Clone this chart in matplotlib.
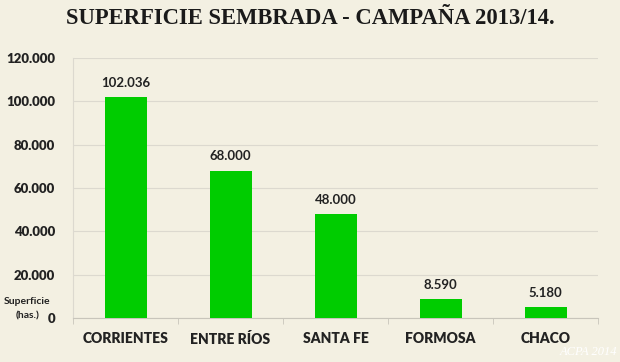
import matplotlib
matplotlib.use("Agg")
import matplotlib.pyplot as plt
from matplotlib.ticker import FuncFormatter, FixedLocator

categories = ["CORRIENTES", "ENTRE RÍOS", "SANTA FE", "FORMOSA", "CHACO"]
values = [102036, 68000, 48000, 8590, 5180]
yticks = [0, 20000, 40000, 60000, 80000, 100000, 120000]

def fmt(v):
    return f"{int(v):,}".replace(",", ".")

bg = "#f3f0e2"
fig = plt.figure(figsize=(6.2, 3.62), dpi=100, facecolor=bg)
ax = fig.add_axes([73/620, 1-318/362, 525/620, 260/362], facecolor=bg)

x = list(range(len(categories)))
ax.bar(x, values, width=0.4, color="#00cc00", zorder=3)
for xi, v in zip(x, values):
    ax.text(xi, v + 3800, fmt(v), ha="center", va="bottom", fontsize=9.5,
            fontweight="bold", family="Lato", color="#222222")

ax.set_xlim(-0.5, len(categories) - 0.5)
ax.set_ylim(0, 120000)
ax.set_yticks(yticks)
ax.yaxis.set_major_formatter(FuncFormatter(lambda v, p: fmt(v)))
ax.set_xticks(x)
ax.set_xticklabels(categories)
ax.xaxis.set_minor_locator(FixedLocator([i - 0.5 for i in range(len(categories) + 1)]))
ax.grid(axis="y", color="#dcd9cf", linewidth=0.8, zorder=0)
for s in ["top", "right"]:
    ax.spines[s].set_visible(False)
ax.spines["left"].set_color("#dcd9cf")
ax.spines["bottom"].set_color("#c8c5bb")
ax.tick_params(axis="y", length=0, pad=13, labelsize=9.5, colors="#222222")
ax.tick_params(axis="x", which="major", length=0, pad=10, labelsize=10, colors="#222222")
ax.tick_params(axis="x", which="minor", length=4, color="#c8c5bb")
for lbl in ax.get_yticklabels() + ax.get_xticklabels():
    lbl.set_fontweight("heavy")
    lbl.set_family("Lato")

fig.text(0.5, 1-19/362, "SUPERFICIE SEMBRADA - CAMPAÑA 2013/14.", ha="center", va="center",
         fontsize=16.3, fontweight="bold", family="Liberation Serif", color="#1a1a1a")
fig.text(27/620, 1-302/362, "Superficie", ha="center", va="center", fontsize=7.5,
         fontweight="bold", family="Lato", color="#222222")
fig.text(28/620, 1-316/362, "(has.)", ha="center", va="center", fontsize=7.5,
         fontweight="bold", family="Lato", color="#222222")
fig.text(0.995, 0.01, "ACPA 2014", ha="right", va="bottom", fontsize=9, style="italic",
         family="Liberation Serif", color="white")

fig.savefig("out.png", dpi=100, facecolor=bg)
